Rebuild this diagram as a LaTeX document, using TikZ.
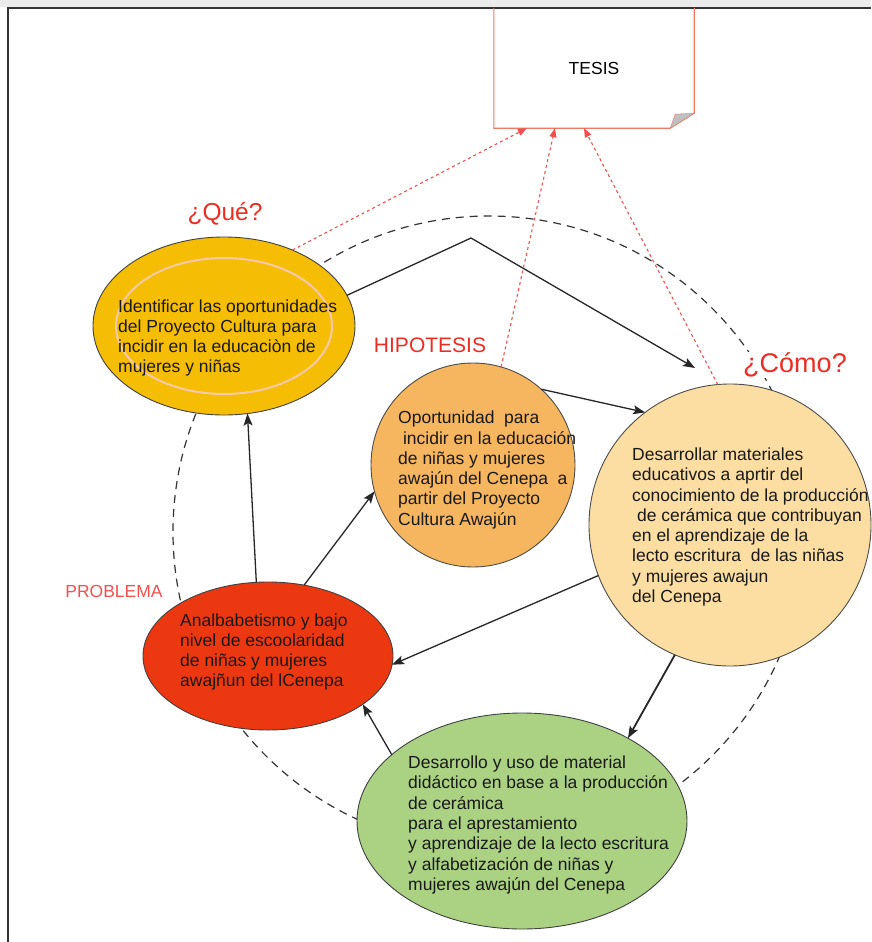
\documentclass[tikz,border=0pt]{standalone}
\usepackage{fontspec}
\setmainfont{Liberation Sans}
\usepackage{xcolor}
\usepackage{tikz}
\usetikzlibrary{positioning, arrows.meta, calc, shapes.geometric}
\definecolor{quegold}{RGB}{245,190,5}
\definecolor{quehalo}{RGB}{248,200,170}
\definecolor{hipoorange}{RGB}{245,182,95}
\definecolor{comopeach}{RGB}{252,222,162}
\definecolor{probred}{RGB}{236,56,16}
\definecolor{accionverde}{RGB}{170,210,130}
\definecolor{tagred}{RGB}{235,45,35}
\definecolor{citered}{RGB}{240,80,80}
\definecolor{tesisline}{RGB}{240,120,100}
\tikzset{
  bubble/.style={ellipse, draw=black!75, line width=0.9pt, inner sep=0pt, outer sep=0pt},
  disc/.style={circle, draw=black!70, line width=0.9pt, inner sep=0pt, outer sep=0pt},
  note/.style={anchor=west, align=left, inner sep=0pt, text=black!90, font=\fontsize{17.5}{20.3}\selectfont},
  tag/.style={text=tagred, fill=white, inner sep=1pt},
  flow/.style={draw=black!85, line width=1.3pt, -{Stealth[length=12pt,width=9pt,inset=2.5pt]}},
  cite/.style={draw=citered, line width=1.1pt, dash pattern=on 3pt off 3pt, -{Triangle[length=9pt,width=7pt]}},
  ring/.style={draw=black!80, line width=1.2pt, dash pattern=on 8pt off 6pt},
}
\begin{document}
\begin{tikzpicture}[x=1pt, y=-1pt]
  \useasboundingbox (0,0) rectangle (871,942);
  \fill[black!8] (0,0) rectangle (871,7);
  \draw[black!80, line width=1.5pt] (8,942) -- (8,8) -- (871,8);

  % cycle behind the bubbles
  \coordinate (hub) at (489,532);
  \draw[ring] (hub) circle[radius=316];

  % thesis sheet
  \node[minimum width=200pt, minimum height=120pt, inner sep=0pt, font=\fontsize{17.5}{20}\selectfont] (TESIS) at (594,68) {TESIS};
  \draw[tesisline, line width=1.1pt] (TESIS.north west) -- (TESIS.south west) -- ($(TESIS.south east)+(-24,0)$)
    -- ($(TESIS.south east)+(0,-15)$) -- (TESIS.north east);
  \filldraw[draw=tesisline, fill=black!25] ($(TESIS.south east)+(-24,0)$) -- ($(TESIS.south east)+(-19,-14)$)
    -- ($(TESIS.south east)+(0,-15)$) -- cycle;

  % bubbles
  \node[bubble, fill=quegold, minimum width=262pt, minimum height=178pt] (Que) at (224,326) {};
  \draw[quehalo, line width=2pt] (Que.center) ellipse[x radius=108, y radius=68];
  \node[note] (queText) at (118,338) {Identificar las oportunidades\\del Proyecto Cultura para\\incidir en la educaciòn de\\mujeres y niñas};

  \node[disc, fill=hipoorange, minimum size=204pt] (Hip) at (473,465) {};
  \node[note] (hipText) at (398,470) {Oportunidad\ \ para\\\ incidir en la educación\\de niñas y mujeres\\awajún del Cenepa\ \ a\\partir del Proyecto\\Cultura Awajún};

  \node[disc, fill=comopeach, minimum size=282pt] (Como) at (730,525) {};
  \node[note] (comoText) at (632,527) {Desarrollar materiales\\educativos a aprtir del\\conocimiento de la producción\\\ de cerámica que contribuyan\\en el aprendizaje de la\\lecto escritura\ \ de las niñas\\y mujeres awajun\\del Cenepa};

  \node[bubble, fill=probred, minimum width=250pt, minimum height=148pt] (Prob) at (268,656) {};
  \node[note] (probText) at (180,652) {Analbabetismo y bajo\\nivel de escoolaridad\\de niñas y mujeres\\awajñun del lCenepa};

  \node[bubble, fill=accionverde, minimum width=330pt, minimum height=216pt] (Accion) at (522,821) {};
  \node[note] (accionText) at (408,825) {Desarrollo y uso de material\\didáctico en base a la producción\\de cerámica\\para el aprestamiento\\y aprendizaje de la lecto escritura\\y alfabetización de niñas y\\mujeres awajún del Cenepa};

  % headings
  \node[tag, font=\fontsize{24.5}{28}\selectfont] (queTag) at (225,214) {¿Qué?};
  \node[tag, font=\fontsize{21}{24}\selectfont] (hipTag) at (430,345) {HIPOTESIS};
  \node[tag, text=citered, font=\fontsize{17.5}{20}\selectfont] (probTag) at (114,591) {PROBLEMA};
  \node[tag, font=\fontsize{27}{31}\selectfont] (comoTag) at (795,365) {¿Cómo?};

  % flow between the bubbles
  \coordinate (bend) at (471,238);
  \coordinate (comoTip) at (695,368);
  \draw[flow] (Que.14) -- (bend) -- (comoTip);
  \draw[flow] (Hip.48) -- (Como.127);
  \draw[flow] (Como.201) -- (Prob.-4);
  \draw[flow, line width=1.8pt] (Como.247) -- (Accion.38);
  \draw[flow] (Accion.153) -- (Prob.-27);
  \draw[flow] (Prob.99) -- (Que.-75);
  \draw[flow] (Prob.63) -- (Hip.195);

  % links up to the thesis
  \draw[cite] (Que.48) -- ($(TESIS.south west)!0.165!(TESIS.south east)$);
  \draw[cite] (Hip.74) -- ($(TESIS.south west)!0.305!(TESIS.south east)$);
  \draw[cite] (Como.95) -- ($(TESIS.south west)!0.45!(TESIS.south east)$);
\end{tikzpicture}
\end{document}
